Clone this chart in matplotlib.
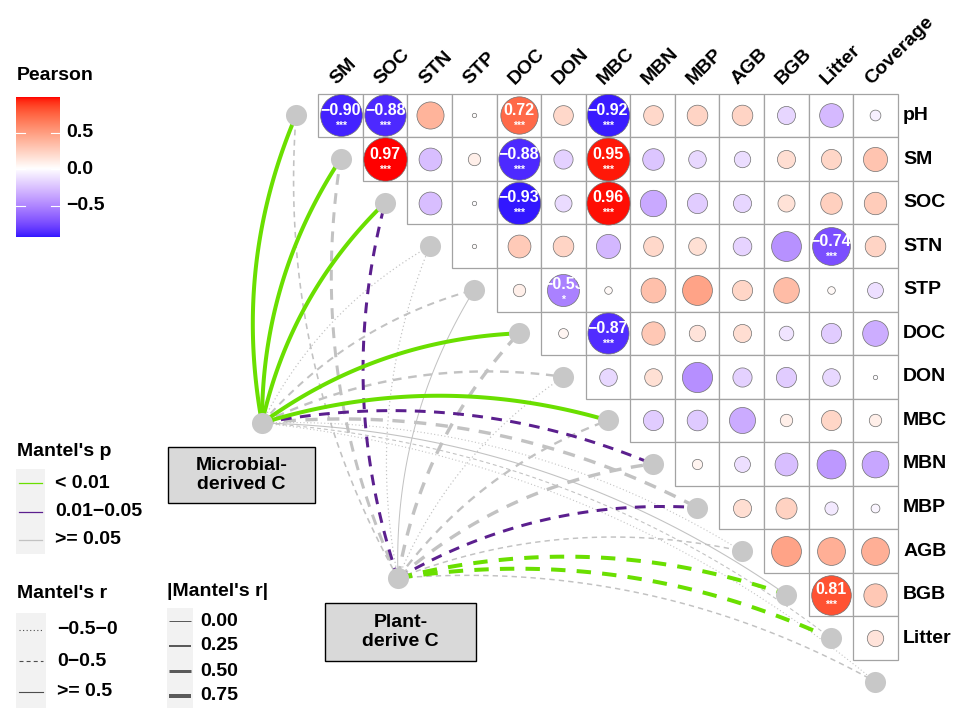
import numpy as np
import matplotlib
matplotlib.use("Agg")
import matplotlib.pyplot as plt
from matplotlib.patches import Rectangle

plt.rcParams["font.family"] = ["Liberation Sans", "DejaVu Sans"]
plt.rcParams["font.weight"] = "bold"

variables = ["pH", "SM", "SOC", "STN", "STP", "DOC", "DON", "MBC", "MBN", "MBP",
             "AGB", "BGB", "Litter", "Coverage"]
row_labels = variables[:-1]
col_labels = variables[1:]

# upper triangle of Pearson r: row i holds r(row_labels[i], col_labels[j]) for j >= i
corr_rows = [
    [-0.90, -0.88, 0.38, 0.01, 0.72, 0.20, -0.92, 0.20, 0.22, 0.22, -0.17, -0.29, -0.06],
    [0.97, -0.27, 0.08, -0.88, -0.19, 0.95, -0.24, -0.16, -0.14, 0.17, 0.21, 0.30],
    [-0.27, -0.01, -0.93, -0.15, 0.96, -0.36, -0.21, -0.17, 0.15, 0.24, 0.26],
    [0.01, 0.27, 0.22, -0.30, 0.20, 0.16, -0.18, -0.46, -0.74, 0.22],
    [0.08, -0.53, 0.03, 0.32, 0.46, 0.21, 0.34, 0.03, -0.13],
    [0.05, -0.87, 0.28, 0.14, 0.17, -0.11, -0.21, -0.34],
    [-0.16, 0.16, -0.47, -0.19, -0.21, -0.16, -0.01],
    [-0.21, -0.22, -0.35, 0.08, 0.21, 0.08],
    [0.055, -0.13, -0.27, -0.43, -0.37],
    [0.17, 0.23, -0.09, -0.04],
    [0.46, 0.40, 0.40],
    [0.81, 0.28],
    [0.14],
]

sig_cells = [
    ("pH", "SM", "***"), ("pH", "SOC", "***"), ("pH", "DOC", "***"), ("pH", "MBC", "***"),
    ("SM", "SOC", "***"), ("SM", "DOC", "***"), ("SM", "MBC", "***"),
    ("SOC", "DOC", "***"), ("SOC", "MBC", "***"),
    ("STN", "Litter", "***"), ("STP", "DON", "*"), ("DOC", "MBC", "***"),
    ("BGB", "Litter", "***"),
]

# Mantel test links (one per variable, in the order of `variables`)
sources = ["Microbial-\nderived C", "Plant-\nderive C"]
microbial_p = ["<0.01", "<0.01", "<0.01", ">=0.05", ">=0.05", "<0.01", ">=0.05", "<0.01",
               "0.01-0.05", ">=0.05", ">=0.05", ">=0.05", ">=0.05", ">=0.05"]
microbial_rtype = ["solid", "solid", "solid", "dotted", "dashed", "solid", "dashed", "solid",
                   "dashed", "dashed", "dotted", "solid", "dashed", "dotted"]
microbial_rabs = [0.75, 0.75, 0.75, 0.05, 0.25, 0.75, 0.35, 0.75, 0.5, 0.6, 0.02, 0.02, 0.02, 0.02]

plant_p = [">=0.05", ">=0.05", "0.01-0.05", ">=0.05", ">=0.05", ">=0.05", ">=0.05", ">=0.05",
           ">=0.05", "0.01-0.05", ">=0.05", "<0.01", "<0.01", ">=0.05"]
plant_rtype = ["dashed", "dashed", "dashed", "dotted", "solid", "dashed", "dotted", "dashed",
               "dashed", "dashed", "dashed", "dashed", "dashed", "dashed"]
plant_rabs = [0.15, 0.5, 0.5, 0.05, 0.0, 0.6, 0.05, 0.33, 0.6, 0.5, 0.12, 0.75, 0.75, 0.12]

p_colors = {"<0.01": "#6ADF00", "0.01-0.05": "#5B1F8E", ">=0.05": "#C2C2C2"}
p_labels = {"<0.01": "< 0.01", "0.01-0.05": "0.01\u22120.05", ">=0.05": ">= 0.05"}
r_styles = {"dotted": (0, (1, 2.2)), "dashed": (0, (3.6, 2.8)), "solid": "solid"}

# ---- colour scale: ggplot gradient2 (blue / white / red) interpolated in Lab
def srgb_to_lab(rgb):
    rgb = np.asarray(rgb, float)
    c = np.where(rgb <= 0.04045, rgb / 12.92, ((rgb + 0.055) / 1.055) ** 2.4)
    m = np.array([[0.4124, 0.3576, 0.1805], [0.2126, 0.7152, 0.0722], [0.0193, 0.1192, 0.9505]])
    xyz = m @ c / np.array([0.95047, 1.0, 1.08883])
    f = np.where(xyz > 0.008856, np.cbrt(xyz), 7.787 * xyz + 16 / 116)
    return np.array([116 * f[1] - 16, 500 * (f[0] - f[1]), 200 * (f[1] - f[2])])


def lab_to_srgb(lab):
    L, a, b = lab
    fy = (L + 16) / 116
    fx = fy + a / 500
    fz = fy - b / 200
    f = np.array([fx, fy, fz])
    xyz = np.where(f ** 3 > 0.008856, f ** 3, (f - 16 / 116) / 7.787) * np.array([0.95047, 1.0, 1.08883])
    m = np.array([[3.2406, -1.5372, -0.4986], [-0.9689, 1.8758, 0.0415], [0.0557, -0.2040, 1.0570]])
    c = m @ xyz
    c = np.where(c <= 0.0031308, 12.92 * c, 1.055 * np.clip(c, 0, None) ** (1 / 2.4) - 0.055)
    return np.clip(c, 0, 1)


lab_low = srgb_to_lab([0, 0, 1])
lab_mid = srgb_to_lab([1, 1, 1])
lab_high = srgb_to_lab([1, 0, 0])
r_min, r_max = -0.93, 0.97
scale_abs = max(abs(r_min), abs(r_max))


def fill_color(v):
    t = v / scale_abs
    if t < 0:
        lab = lab_mid + (lab_low - lab_mid) * min(-t, 1)
    else:
        lab = lab_mid + (lab_high - lab_mid) * min(t, 1)
    return lab_to_srgb(lab)


# ---- layout (cell units; x to the right, y downwards)
cw, ch = 44.57, 43.56
x0_px, y0_px = 318.3, 93.7
W, H = 963, 719

fig = plt.figure(figsize=(W / 100, H / 100), dpi=100)
ax = fig.add_axes([0, 0, 1, 1])
ax.set_xlim(-x0_px / cw, (W - x0_px) / cw)
ax.set_ylim((H - y0_px) / ch, -y0_px / ch)
ax.axis("off")

# node positions: variable k sits left of its own row
node_x = np.arange(len(variables)) - 0.5
node_y = np.arange(len(variables)) + 0.5
source_xy = [(-1.263, 7.56), (1.788, 11.12)]


def curve(src, dst, k=0.15, n=80):
    p0 = np.array([src[0] * cw, src[1] * ch])
    p2 = np.array([dst[0] * cw, dst[1] * ch])
    d = p2 - p0
    ctrl = (p0 + p2) / 2 + k * np.array([d[1], -d[0]])
    t = np.linspace(0, 1, n)[:, None]
    pts = (1 - t) ** 2 * p0 + 2 * (1 - t) * t * ctrl + t ** 2 * p2
    return pts[:, 0] / cw, pts[:, 1] / ch


# edges: grey first, then purple, then green on top
links = []
for s, (pv, rt, ra) in enumerate([(microbial_p, microbial_rtype, microbial_rabs),
                                   (plant_p, plant_rtype, plant_rabs)]):
    for k in range(len(variables)):
        links.append((s, k, pv[k], rt[k], ra[k]))
order = {">=0.05": 0, "0.01-0.05": 1, "<0.01": 2}
links.sort(key=lambda l: order[l[2]])
for s, k, pv, rt, ra in links:
    xs, ys = curve(source_xy[s], (node_x[k], node_y[k]))
    lw = (1 + 4 * ra) * 0.72
    ax.plot(xs, ys, color=p_colors[pv], lw=lw, linestyle=r_styles[rt],
            solid_capstyle="butt", dash_capstyle="butt", zorder=2)

ax.scatter(node_x, node_y, s=230, color="#C8C8C8", lw=0, zorder=3)
ax.scatter([p[0] for p in source_xy], [p[1] for p in source_xy], s=230, color="#C8C8C8", lw=0, zorder=3)

# correlation cells
for i, row in enumerate(corr_rows):
    for m, v in enumerate(row):
        j = i + m
        ax.add_patch(Rectangle((j, i), 1, 1, facecolor="white", edgecolor="#A3A3A3", lw=0.9, zorder=4))
for i, row in enumerate(corr_rows):
    for m, v in enumerate(row):
        j = i + m
        ax.scatter(j + 0.5, i + 0.5, s=1004 * abs(v), color=fill_color(v),
                   edgecolor="#707070", lw=0.5, zorder=5)

for rname, cname, st in sig_cells:
    i = row_labels.index(rname)
    j = col_labels.index(cname)
    v = corr_rows[i][j - i]
    ax.text(j + 0.5, i + 0.39, f"{v:.2f}".replace("-", "\u2212"), color="white",
            fontsize=11.5, ha="center", va="center", zorder=6)
    ax.text(j + 0.5, i + 0.74, st, color="white", fontsize=7.5, ha="center", va="center", zorder=6)

for i, name in enumerate(row_labels):
    ax.text(13.12, i + 0.5, name, fontsize=14, ha="left", va="center")
for j, name in enumerate(col_labels):
    ax.text(j + 0.4, -0.2, name, fontsize=14, rotation=45, rotation_mode="anchor",
            ha="left", va="baseline")

# ---- legends / annotations in pixel coordinates
lg = fig.add_axes([0, 0, 1, 1])
lg.set_xlim(0, W)
lg.set_ylim(H, 0)
lg.axis("off")
lg.patch.set_alpha(0)

# source labels
for (bx, by, bw, bh), text in zip([(168, 447, 147, 56), (325, 603, 151, 58)], sources):
    lg.add_patch(Rectangle((bx, by), bw, bh, facecolor="#D9D9D9", edgecolor="black", lw=1.0))
    lg.text(bx + bw / 2, by + bh / 2, text, ha="center", va="center", fontsize=14, linespacing=1.1)

# colour bar
cb_top, cb_bot = 98.3, 237.3
vals = np.linspace(r_max, r_min, 200)
grad = np.array([fill_color(v) for v in vals])[:, None, :]
lg.imshow(grad, extent=(16, 60, cb_bot, cb_top), origin="upper", aspect="auto", zorder=2)
lg.set_xlim(0, W)
lg.set_ylim(H, 0)
lg.text(17, 76, "Pearson", fontsize=14, ha="left", va="center")
for v in [0.5, 0.0, -0.5]:
    yy = cb_top + (r_max - v) / (r_max - r_min) * (cb_bot - cb_top)
    lg.plot([16, 24.8], [yy, yy], color="white", lw=0.8, zorder=3)
    lg.plot([51.2, 60], [yy, yy], color="white", lw=0.8, zorder=3)
    lg.text(66, yy, f"{v:.1f}".replace("-", "\u2212"), fontsize=14, ha="left", va="center")

# Mantel's p
lg.text(17, 452, "Mantel's p", fontsize=14, ha="left", va="center")
lg.add_patch(Rectangle((16, 469), 29, 85, facecolor="#F2F2F2", lw=0))
for yy, key in zip([483, 512, 540], ["<0.01", "0.01-0.05", ">=0.05"]):
    lg.plot([19, 42], [yy, yy], color=p_colors[key], lw=0.9)
    lg.text(55, yy, p_labels[key], fontsize=14, ha="left", va="center")

# Mantel's r
lg.text(17, 593, "Mantel's r", fontsize=14, ha="left", va="center")
lg.add_patch(Rectangle((16, 613), 30, 95, facecolor="#F2F2F2", lw=0))
for yy, key, lab in zip([630, 661, 692], ["dotted", "dashed", "solid"],
                        ["\u22120.5\u22120", "0\u22120.5", ">= 0.5"]):
    lg.plot([19, 43], [yy, yy], color="#4D4D4D", lw=0.8, linestyle=r_styles[key])
    lg.text(57, yy, lab, fontsize=14, ha="left", va="center")

# |Mantel's r|
lg.text(167, 592, "|Mantel's r|", fontsize=14, ha="left", va="center")
lg.add_patch(Rectangle((167, 608), 26, 100, facecolor="#F2F2F2", lw=0))
for yy, rv in zip([621, 646, 671, 696], [0.0, 0.25, 0.5, 0.75]):
    lg.plot([169, 191], [yy, yy], color="#5A5A5A", lw=(1 + 4 * rv) * 0.72, solid_capstyle="butt")
    lg.text(200, yy, f"{rv:.2f}", fontsize=14, ha="left", va="center")

fig.savefig("out.png", dpi=100)
